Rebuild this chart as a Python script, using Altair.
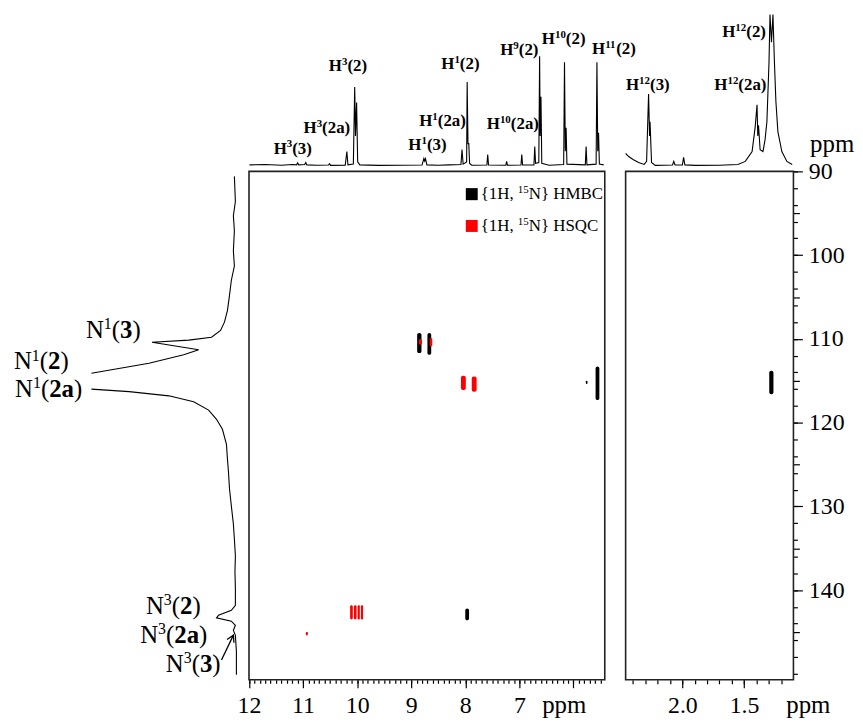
import altair as alt
import pandas as pd

FONT = "Liberation Serif"

# ---------------- data ----------------
# 1H projection above the main panel: (ppm, relative intensity)
top_main = [(11.99, 1.0), (11.7, 1.3), (11.4, 0.8), (11.2, 1.3), (11.12, 1.0), (11.10, 2.3), (11.08, 1.0),
            (10.97, 1.2), (10.95, 2.6), (10.93, 1.0), (10.75, 0.8), (10.53, 0.9), (10.51, 1.8), (10.49, 0.7),
            (10.22, 0.8), (10.19, 9.8), (10.17, 1.0), (10.07, 1.5), (10.045, 52.3), (10.03, 20), (10.01, 42),
            (9.99, 3), (9.95, 1.0), (9.6, 0.7), (9.2, 0.8), (8.80, 0.9), (8.765, 5.2), (8.75, 3.5), (8.735, 5.0),
            (8.71, 1.0), (8.5, 0.8), (8.3, 1.0), (8.08, 1.2), (8.06, 11.1), (8.04, 1.5), (7.975, 3),
            (7.965, 55.6), (7.95, 15), (7.935, 15), (7.92, 2), (7.88, 0.8), (7.6, 0.9), (7.585, 7.8),
            (7.57, 0.9), (7.25, 0.8), (7.235, 3.3), (7.22, 0.8), (6.97, 0.9), (6.955, 7.8), (6.94, 0.9),
            (6.73, 1.0), (6.715, 13.1), (6.70, 2.0), (6.64, 2.5), (6.625, 72.5), (6.615, 20), (6.60, 45.8),
            (6.585, 2), (6.45, 0.8), (6.18, 1.2), (6.165, 68.6), (6.15, 10), (6.135, 25.5), (6.12, 1.5),
            (5.78, 1.0), (5.765, 13.1), (5.75, 1.0), (5.58, 1.5), (5.565, 68.6), (5.55, 10), (5.535, 22.2),
            (5.52, 1.5), (5.44, 1.0)]
# 1H projection above the right panel
top_right = [(2.46, 8.5), (2.435, 6.5), (2.40, 4.6), (2.355, 2.6), (2.31, 1.3), (2.29, 3.3), (2.274, 47.7),
             (2.266, 20), (2.262, 29.4), (2.25, 2.6), (2.22, 0.7), (2.08, 0.9), (2.07, 3.3), (2.06, 0.9),
             (2.00, 1.0), (1.99, 5.9), (1.98, 1.0), (1.895, 0.7), (1.7, 0.8), (1.55, 1.3), (1.49, 3.3),
             (1.435, 9.8), (1.41, 26), (1.395, 40.5), (1.389, 20), (1.383, 27), (1.37, 11), (1.347, 9.8),
             (1.33, 17.6), (1.315, 29.4), (1.298, 68.6), (1.29, 100), (1.278, 81.7), (1.266, 100),
             (1.254, 68.6), (1.242, 42.5), (1.226, 22.9), (1.194, 9.8), (1.153, 3.3), (1.11, 1.3)]
# 15N projection on the left: (ppm, relative intensity), two pieces (peak clipped between)
left_a = [(90.6, 0.7), (93.6, 0), (95.3, 1.4), (97.1, 0.7), (99.5, 1.4), (101.3, 0.7), (103.0, 2.8),
          (104.8, 4.1), (106.6, 5.5), (108.0, 7.6), (109.0, 10.3), (109.8, 16.6), (110.15, 32.4),
          (110.4, 57.9), (111.3, 25.5), (111.9, 35.9), (112.9, 60), (114.1, 100)]
left_b = [(116.0, 100), (116.3, 73.8), (116.8, 46.2), (117.5, 29), (118.5, 18.6), (119.6, 13.1),
          (120.8, 9.0), (122.6, 6.2), (124.4, 5.5), (125.9, 4.8), (127.9, 4.1), (129.95, 2.8), (132.1, 1.4),
          (133.9, 0.7), (135.9, 0), (137.8, 0.3), (139.8, 0), (141.8, 0), (142.4, 2.8), (143.0, 11.7),
          (143.3, 13.1), (143.7, 2.8), (144.2, 0), (144.8, 1.4), (145.4, 0), (147.3, -0.7), (150.1, -0.7)]

# cross peaks: (1H from, 1H to, 15N from, 15N to)
hmbc_main = [(8.89, 8.81, 109.3, 111.7), (8.70, 8.63, 109.3, 111.9), (5.59, 5.52, 113.3, 117.3),
             (5.77, 5.74, 115.0, 115.4), (8.00, 7.93, 142.2, 143.6)]
hmbc_right = [(1.296, 1.262, 113.8, 116.6)]
hsqc_main = [(8.86, 8.80, 110.0, 110.7), (8.66, 8.61, 109.9, 110.9), (8.08, 7.99, 114.4, 116.1),
             (7.88, 7.79, 114.5, 116.3), (10.13, 10.08, 141.8, 143.5), (10.06, 10.01, 141.8, 143.5),
             (9.99, 9.95, 141.8, 143.5), (9.93, 9.89, 141.8, 143.5), (10.95, 10.91, 145.0, 145.4)]

# peak labels: (superscript, compound, x, y)
top_labels_main = [("3", "(3)", 11.19, 11.8), ("3", "(2a)", 10.56, 25.5), ("3", "(2)", 10.17, 66.0),
                   ("1", "(3)", 8.70, 14.4), ("1", "(2a)", 8.42, 30.0), ("1", "(2)", 8.09, 67.3),
                   ("10", "(2a)", 7.12, 28.1), ("9", "(2)", 7.00, 76.5), ("10", "(2)", 6.18, 83.7),
                   ("11", "(2)", 5.25, 77.0)]
top_labels_right = [("12", "(3)", 2.28, 53.6), ("12", "(2a)", 1.53, 53.6), ("12", "(2)", 1.50, 88.2)]
n_labels = [("1", "3", 84.8, 108.97), ("1", "2", 134.8, 112.76), ("1", "2a", 129.7, 116.08),
            ("3", "2", 43.1, 141.93), ("3", "2a", 42.8, 145.37), ("3", "3", 29.3, 148.92)]
legend_names = ["HMBC", "HSQC"]
legend_colors = ["black", "red"]
legend_y = [92.73, 96.52]
legend_box = [(7.99, 7.77, 92.0, 93.44), (7.99, 7.77, 95.8, 97.23)]
arrow = (9.66, 148.33, 1.38, 145.37)

x_major_main = [12, 11, 10, 9, 8, 7, 6]
x_major_right = [2.0, 1.5]
y_major = [90, 100, 110, 120, 130, 140]

# ---------------- scales ----------------
SC = {
    "xm": ([12, 5.42], [242.7, 601]),
    "xr": ([2.46, 1.10], [622, 791]),
    "xl": ([0, 100], [229, 84]),
    "yn": ([90, 150.7], [162, 674]),
    "yt": ([0, 100], [157, 4]),
}


def sc(k):
    d, r = SC[k]
    return alt.Scale(domain=d, range=r, nice=False, zero=False)


def ppu(k):
    d, r = SC[k]
    return (r[1] - r[0]) / (d[1] - d[0])


REG = {'N': 0.722, 'H': 0.722, '(': 0.333, ')': 0.333, 'a': 0.444, '{': 0.48, '}': 0.48, ',': 0.25,
       ' ': 0.25, 'M': 0.889, 'B': 0.667, 'C': 0.667, 'S': 0.556, 'Q': 0.722, 'p': 0.5, 'm': 0.778}
BOLD = {'N': 0.722, 'H': 0.778, '(': 0.333, ')': 0.333, 'a': 0.5}


def tw(s, size, bold):
    t = BOLD if bold else REG
    return size * sum(t.get(c, 0.5) for c in s)


def label_rows(pieces, cx, cy, xk, yk, size, anchor="center"):
    sup = round(size * 0.62)
    widths = [tw(t, sup if s else size, b) for t, b, s in pieces]
    px = -sum(widths) / 2 if anchor == "center" else 0
    rows = []
    for (t, b, s), w in zip(pieces, widths):
        dy = 0.30 * size - (0.36 * size if s else 0)
        rows.append(dict(x=cx + px / ppu(xk), y=cy + dy / ppu(yk), text=t,
                         size=sup if s else size, bold=b))
        px += w
    return rows


def text_layer(rows, xk, yk, bold):
    rows = [r for r in rows if r["bold"] == bold]
    return alt.Chart(pd.DataFrame(rows)).mark_text(
        align="left", baseline="alphabetic", font=FONT,
        fontWeight="bold" if bold else "normal", color="black").encode(
        x=alt.X("x:Q", scale=sc(xk), axis=None),
        y=alt.Y("y:Q", scale=sc(yk), axis=None),
        text="text:N",
        size=alt.Size("size:Q", scale=None, legend=None))


def ax(orient, values, size, labels=True, expr=None, fmt=None):
    kw = dict(orient=orient, values=values, tickSize=size, tickColor="black", tickWidth=1.2,
              domain=False, grid=False, title=None, labels=labels, labelFont=FONT, labelFontSize=24,
              labelColor="black", labelPadding=6, labelFlush=False, labelOverlap=False)
    if expr:
        kw["labelExpr"] = expr
    if fmt:
        kw["format"] = fmt
    return alt.Axis(**kw)


layers = []

# frames + axes
frame_main = pd.DataFrame([dict(x=12, x2=5.42, y=90, y2=150.7)])
frame_right = pd.DataFrame([dict(x=2.46, x2=1.10, y=90, y2=150.7)])

layers.append(alt.Chart(frame_main).mark_rect(fillOpacity=0, stroke="#222", strokeWidth=1.6).encode(
    x=alt.X("x:Q", scale=sc("xm"), axis=ax("bottom", x_major_main, 8, expr="datum.value == 6 ? '' : datum.label")),
    x2="x2:Q", y=alt.Y("y:Q", scale=sc("yn"), axis=None), y2="y2:Q"))
layers.append(alt.Chart(frame_main).mark_rect(opacity=0).encode(
    x=alt.X("x:Q", scale=sc("xm"),
            axis=ax("bottom", [round(12 - 0.1 * i, 1) for i in range(66)], 3.5, labels=False)),
    x2="x2:Q", y=alt.Y("y:Q", scale=sc("yn"), axis=None), y2="y2:Q"))
layers.append(alt.Chart(frame_right).mark_rect(fillOpacity=0, stroke="#222", strokeWidth=1.6).encode(
    x=alt.X("x:Q", scale=sc("xr"), axis=ax("bottom", x_major_right, 8, fmt=".1f")),
    x2="x2:Q",
    y=alt.Y("y:Q", scale=sc("yn"), axis=ax("right", y_major, 9)), y2="y2:Q"))
layers.append(alt.Chart(frame_right).mark_rect(opacity=0).encode(
    x=alt.X("x:Q", scale=sc("xr"),
            axis=ax("bottom", [round(2.4 - 0.1 * i, 1) for i in range(13)], 4, labels=False)),
    x2="x2:Q",
    y=alt.Y("y:Q", scale=sc("yn"), axis=ax("right", [90 + 2 * i for i in range(31)], 4, labels=False)),
    y2="y2:Q"))
layers.append(alt.Chart(frame_right).mark_rect(opacity=0).encode(
    x=alt.X("x:Q", scale=sc("xr"), axis=None), x2="x2:Q",
    y=alt.Y("y:Q", scale=sc("yn"), axis=ax("right", [95, 105, 115, 125, 135, 145], 6, labels=False)),
    y2="y2:Q"))

# projections
def trace(points, xk, yk, seg=0):
    return [dict(x=a, y=b, i=n, seg=seg) for n, (a, b) in enumerate(points)]

tm = pd.DataFrame(trace(top_main, "xm", "yt"))
tr = pd.DataFrame(trace(top_right, "xr", "yt"))
lf = pd.DataFrame([dict(ppm=a, inten=b, i=n, seg=0) for n, (a, b) in enumerate(left_a)] +
                  [dict(ppm=a, inten=b, i=n, seg=1) for n, (a, b) in enumerate(left_b)])

layers.append(alt.Chart(tm).mark_line(color="black", strokeWidth=1.1).encode(
    x=alt.X("x:Q", scale=sc("xm"), axis=None), y=alt.Y("y:Q", scale=sc("yt"), axis=None), order="i:Q"))
layers.append(alt.Chart(tr).mark_line(color="black", strokeWidth=1.1).encode(
    x=alt.X("x:Q", scale=sc("xr"), axis=None), y=alt.Y("y:Q", scale=sc("yt"), axis=None), order="i:Q"))
layers.append(alt.Chart(lf).mark_line(color="black", strokeWidth=1.1).encode(
    x=alt.X("inten:Q", scale=sc("xl"), axis=None), y=alt.Y("ppm:Q", scale=sc("yn"), axis=None),
    detail="seg:N", order="i:Q"))

# cross peaks
def peaks(lst, xk, color):
    df = pd.DataFrame(lst, columns=["x1", "x2", "y1", "y2"])
    return alt.Chart(df).mark_rect(color=color, cornerRadius=2).encode(
        x=alt.X("x1:Q", scale=sc(xk), axis=None), x2="x2:Q",
        y=alt.Y("y1:Q", scale=sc("yn"), axis=None), y2="y2:Q")

layers.append(peaks(hmbc_main, "xm", "black"))
layers.append(peaks(hmbc_right, "xr", "black"))
layers.append(peaks(hsqc_main, "xm", "#ff0000"))

# legend
for (a, b, c, d), col in zip(legend_box, legend_colors):
    layers.append(alt.Chart(pd.DataFrame([dict(x1=a, x2=b, y1=c, y2=d)])).mark_rect(color=col).encode(
        x=alt.X("x1:Q", scale=sc("xm"), axis=None), x2="x2:Q",
        y=alt.Y("y1:Q", scale=sc("yn"), axis=None), y2="y2:Q"))

# arrow
ar = pd.DataFrame([dict(x=arrow[0], y=arrow[1], x2=arrow[2], y2=arrow[3])])
layers.append(alt.Chart(ar).mark_rule(color="black", strokeWidth=1.3).encode(
    x=alt.X("x:Q", scale=sc("xl"), axis=None), x2="x2:Q",
    y=alt.Y("y:Q", scale=sc("yn"), axis=None), y2="y2:Q"))
layers.append(alt.Chart(ar).mark_point(shape="M -0.55 0.95 L 0 0 L 0.55 0.95", filled=False, size=200,
                                       angle=26, strokeWidth=1.3, color="black", opacity=1).encode(
    x=alt.X("x2:Q", scale=sc("xl"), axis=None), y=alt.Y("y2:Q", scale=sc("yn"), axis=None)))

# text
rows_tm, rows_tr, rows_l, rows_m, rows_r = [], [], [], [], []
for s, c, x, y in top_labels_main:
    rows_tm += label_rows([("H", True, False), (s, True, True), (c, True, False)], x, y, "xm", "yt", 17)
for s, c, x, y in top_labels_right:
    rows_tr += label_rows([("H", True, False), (s, True, True), (c, True, False)], x, y, "xr", "yt", 17)
for s, c, x, y in n_labels:
    rows_l += label_rows([("N", False, False), (s, False, True), ("(", False, False), (c, True, False),
                          (")", False, False)], x, y, "xl", "yn", 25)
for name, y in zip(legend_names, legend_y):
    rows_m += label_rows([("{1H, ", False, False), ("15", False, True), ("N} " + name, False, False)],
                         7.715, y, "xm", "yn", 17, anchor="left")
rows_m += label_rows([("ppm", False, False)], 6.17, 153.78, "xm", "yn", 25)
rows_r += label_rows([("ppm", False, False)], 0.979, 153.78, "xr", "yn", 25)
rows_r += label_rows([("ppm", False, False)], 0.786, 86.8, "xr", "yn", 25)

layers.append(text_layer(rows_tm, "xm", "yt", True))
layers.append(text_layer(rows_tr, "xr", "yt", True))
layers.append(text_layer(rows_l, "xl", "yn", False))
layers.append(text_layer(rows_l, "xl", "yn", True))
layers.append(text_layer(rows_m, "xm", "yn", False))
layers.append(text_layer(rows_r, "xr", "yn", False))

chart = alt.layer(*layers).resolve_scale(x="independent", y="independent").properties(
    width=791, height=674, padding=0, background="white").configure_view(stroke=None)

chart.save("out.html", embed_options={"renderer": "svg", "actions": False})
